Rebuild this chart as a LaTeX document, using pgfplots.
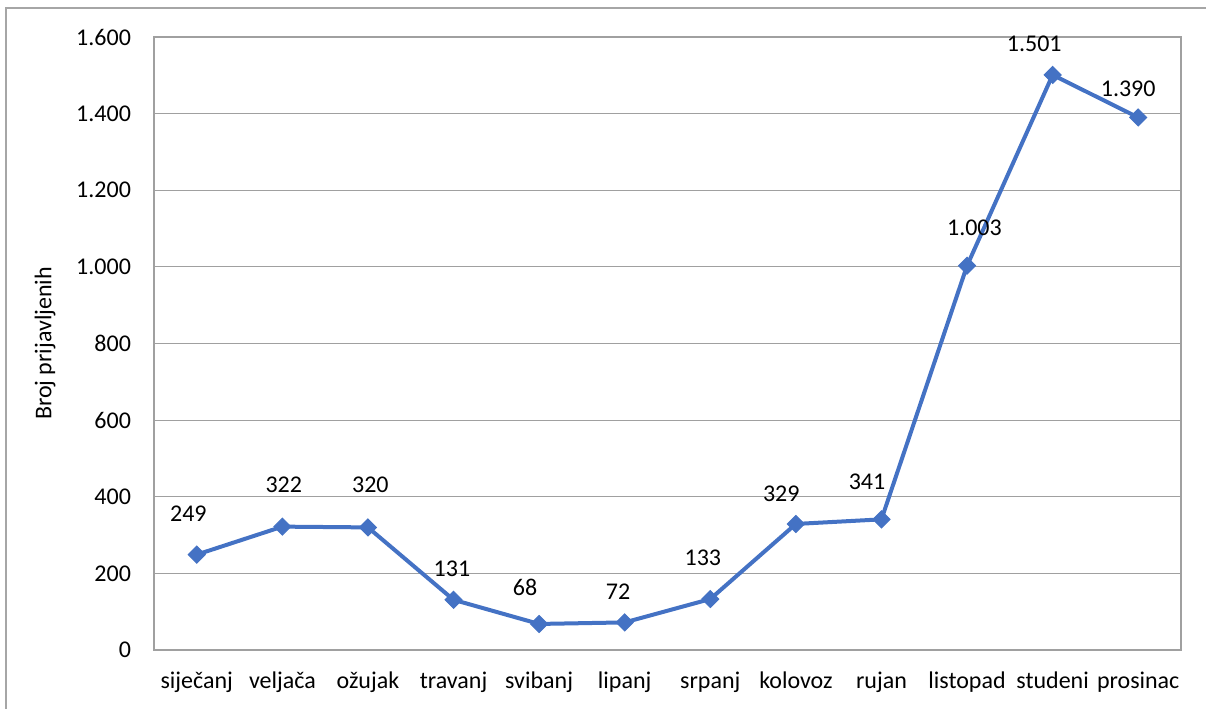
\documentclass[border=0pt]{standalone}
\usepackage{fontspec}
\setmainfont{Carlito}
\usepackage{pgfplots}
\usepackage{pgfplotstable}
\pgfplotsset{compat=1.18}
\definecolor{lineblue}{HTML}{4472C4}
\definecolor{gridgray}{HTML}{A0A0A0}
\definecolor{framegray}{HTML}{A6A6A6}

\pgfplotstableread{
x y dx dy
0 249 -4.2 20.5
1 322 0.7 20.8
2 320 1.2 21.2
3 131 -0.8 15.5
4 68 -7.0 18.3
5 72 -3.3 15.3
6 133 -3.7 20.8
7 329 -7.3 15.0
8 341 -7.2 18.8
9 1003 3.7 18.8
10 1501 -9.2 15.5
11 1390 -5.0 14.5
}\datatable

\begin{document}
\begin{tikzpicture}[x=1pt,y=1pt]
\useasboundingbox (0,0) rectangle (603,354);
\draw[framegray, line width=0.6pt] (3,-2) -- (3,350) -- (605,350);
\begin{axis}[
  at={(77pt,29pt)}, anchor=south west,
  width=513.5pt, height=306.5pt, scale only axis,
  xmin=-0.5, xmax=11.5, ymin=0, ymax=1600,
  xtick={0,1,...,11},
  xticklabels={siječanj,veljača,ožujak,travanj,svibanj,lipanj,srpanj,kolovoz,rujan,listopad,studeni,prosinac},
  ytick={0,200,...,1600},
  ymajorgrids,
  grid style={gridgray, line width=0.6pt},
  axis line style={gridgray, line width=0.6pt},
  major tick length=0pt,
  tick style={draw=none},
  /pgf/number format/1000 sep={.},
  /pgf/number format/assume math mode=true,
  font=\fontsize{12}{14}\selectfont,
  yticklabel style={xshift=-8pt},
  xticklabel style={anchor=base, yshift=-19pt},
  ylabel={Broj prijavljenih},
  ylabel style={at={(axis description cs:-0.1061,0.5)}, anchor=center},
  clip=false,
]
\addplot[lineblue, line width=2pt, mark=square*,
  mark options={rotate=45, fill=lineblue, draw=lineblue, line width=0.5pt, mark size=3pt},
  nodes near coords,
  nodes near coords align={center},
  visualization depends on={\thisrow{dx} \as \dx},
  visualization depends on={\thisrow{dy} \as \dy},
  every node near coord/.append style={anchor=center, xshift=\dx pt, yshift=\dy pt, text=black, font=\fontsize{12}{14}\selectfont},
] table[x=x, y=y] {\datatable};
\end{axis}
\end{tikzpicture}
\end{document}
